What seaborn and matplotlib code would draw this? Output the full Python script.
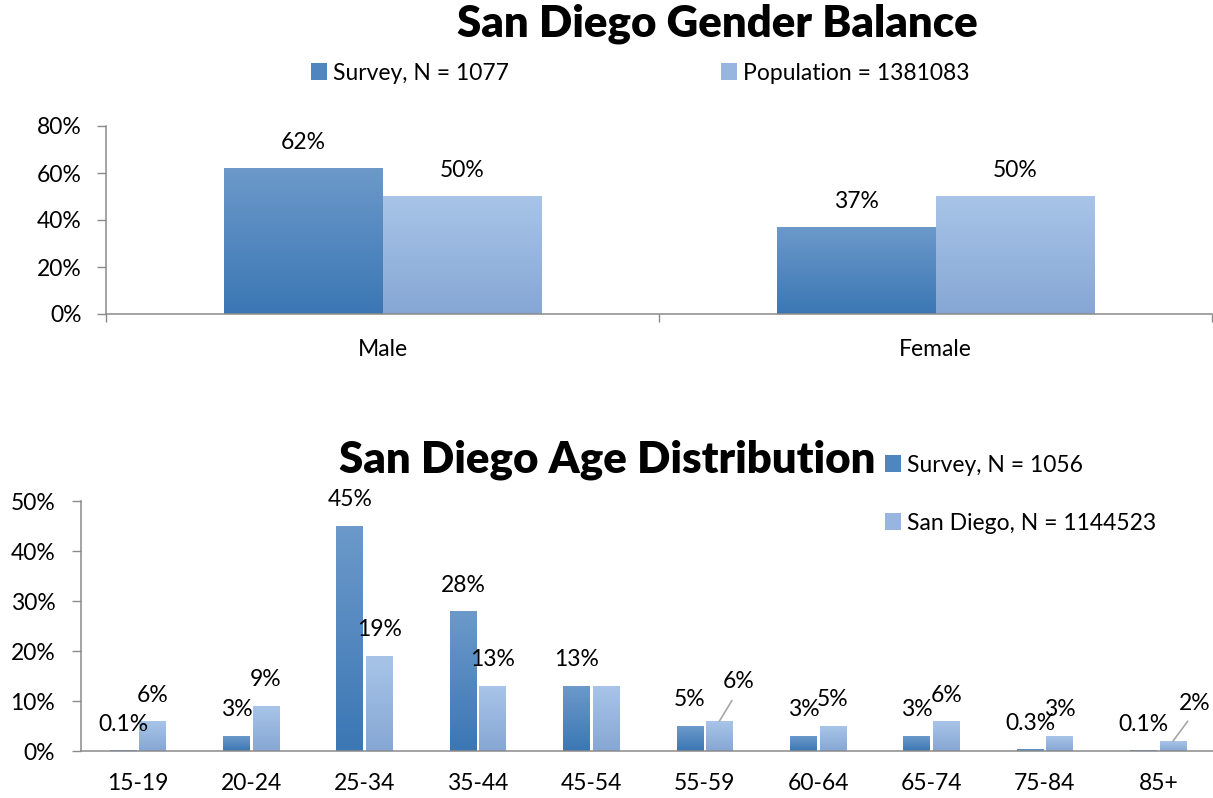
import numpy as np
import pandas as pd
import matplotlib
matplotlib.use("Agg")
import matplotlib.pyplot as plt
import matplotlib.patches as mpatches
from matplotlib.ticker import FuncFormatter
import seaborn as sns

# ---------------- data ----------------
gender_cats = ["Male", "Female"]
gender_survey = [62, 37]
gender_pop = [50, 50]
gender_series = ["Survey, N = 1077", "Population = 1381083"]

age_cats = ["15-19", "20-24", "25-34", "35-44", "45-54",
            "55-59", "60-64", "65-74", "75-84", "85+"]
age_survey = [0.1, 3, 45, 28, 13, 5, 3, 3, 0.3, 0.1]
age_pop = [6, 9, 19, 13, 13, 6, 5, 6, 3, 2]
age_series = ["Survey, N = 1056", "San Diego, N = 1144523"]

gender_title = "San Diego Gender Balance"
age_title = "San Diego Age Distribution"

# ---------------- style ----------------
sns.set_style("white")
plt.rcParams["font.family"] = ["Lato", "DejaVu Sans"]
plt.rcParams["text.color"] = "black"
plt.rcParams["xtick.labelcolor"] = "black"
plt.rcParams["ytick.labelcolor"] = "black"
FS = 16.5

W, H = 1213, 798
DARK = ("#6c99ca", "#3b77b4")    # top, bottom
LIGHT = ("#a8c4e8", "#86a7d4")
SPINE = "#8a8a8a"

fig = plt.figure(figsize=(W / 100, H / 100), dpi=100)
ax1 = fig.add_axes([106 / W, 1 - 314 / H, (1212 - 106) / W, 188 / H])
ax2 = fig.add_axes([81 / W, 1 - 751 / H, 1134 / W, 250 / H])

df1 = pd.DataFrame({
    "cat": gender_cats * 2,
    "val": gender_survey + gender_pop,
    "series": [gender_series[0]] * 2 + [gender_series[1]] * 2,
})
df2 = pd.DataFrame({
    "cat": age_cats * 2,
    "val": age_survey + age_pop,
    "series": [age_series[0]] * len(age_cats) + [age_series[1]] * len(age_cats),
})

sns.barplot(data=df1, x="cat", y="val", hue="series", ax=ax1,
            palette=[DARK[1], LIGHT[1]], width=0.573, gap=0,
            legend=False, linewidth=0)
sns.barplot(data=df2, x="cat", y="val", hue="series", ax=ax2,
            palette=[DARK[1], LIGHT[1]], width=0.52, gap=0.1,
            legend=False, linewidth=0)


def gradient(ax, bar, cols):
    x, y = bar.get_x(), bar.get_y()
    w, h = bar.get_width(), bar.get_height()
    c0 = np.array(matplotlib.colors.to_rgba(cols[0]))
    c1 = np.array(matplotlib.colors.to_rgba(cols[1]))
    t = np.linspace(0, 1, 128)[:, None]
    img = (c0[None, :] * (1 - t) + c1[None, :] * t)[:, None, :]
    ax.imshow(img, extent=[x, x + w, y, y + h], origin="upper",
              aspect="auto", zorder=bar.get_zorder() + 0.1, interpolation="bilinear")


def fmt(v):
    return f"{v:.1f}%" if v < 1 else f"{v:.0f}%"


def style_axis(ax, ymax, step, xlim):
    ax.set_xlim(*xlim)
    ax.set_ylim(0, ymax)
    ax.set_yticks(np.arange(0, ymax + 0.01, step))
    ax.yaxis.set_major_formatter(FuncFormatter(lambda v, p: f"{v:.0f}%"))
    ax.set_xlabel("")
    ax.set_ylabel("")
    for s in ["top", "right"]:
        ax.spines[s].set_visible(False)
    for s in ["left", "bottom"]:
        ax.spines[s].set_color(SPINE)
        ax.spines[s].set_linewidth(1.1)
    ax.tick_params(axis="y", length=6.5, width=1, color=SPINE, pad=11,
                   labelsize=FS, left=True)
    ax.grid(False)


# top chart
for cont, cols in zip(ax1.containers, [DARK, LIGHT]):
    for bar in cont:
        gradient(ax1, bar, cols)
style_axis(ax1, 80, 20, (-0.5, 1.5))
ax1.tick_params(axis="x", which="major", length=0, pad=18, labelsize=FS)
ax1.set_xticks([-0.5, 0.5, 1.5], minor=True)
ax1.tick_params(axis="x", which="minor", length=6, width=1, color=SPINE,
                bottom=True)
for cont, vals in zip(ax1.containers, [gender_survey, gender_pop]):
    for bar, v in zip(cont, vals):
        ax1.annotate(fmt(v), xy=(bar.get_x() + bar.get_width() / 2, bar.get_height()),
                     xytext=(0, 26), textcoords="offset pixels",
                     ha="center", va="center", fontsize=FS)

# bottom chart
for cont, cols in zip(ax2.containers, [DARK, LIGHT]):
    for bar in cont:
        gradient(ax2, bar, cols)
style_axis(ax2, 50, 10, (-0.5, 9.5))
ax2.tick_params(axis="x", length=0, pad=16, labelsize=FS)
ax2.tick_params(axis="y", pad=12)

hidden = {(1, "45-54")}
leader = {(1, "55-59"): (19, 39), (1, "85+"): (22, 38)}
for si, (cont, vals) in enumerate(zip(ax2.containers, [age_survey, age_pop])):
    for bar, v, c in zip(cont, vals, age_cats):
        if (si, c) in hidden:
            continue
        xy = (bar.get_x() + bar.get_width() / 2, bar.get_height())
        if (si, c) in leader:
            ax2.annotate(fmt(v), xy=xy, xytext=leader[(si, c)],
                         textcoords="offset pixels", ha="center", va="center",
                         fontsize=FS,
                         arrowprops=dict(arrowstyle="-", color="#a6a6a6", lw=1.2,
                                         shrinkA=4, shrinkB=0, relpos=(0.45, 0.0)))
        else:
            ax2.annotate(fmt(v), xy=xy, xytext=(0, 26), textcoords="offset pixels",
                         ha="center", va="center", fontsize=FS)

# titles
fig.text(717 / W, 1 - 37 / H, gender_title, ha="center", va="baseline",
         fontsize=31.5, fontweight="heavy")
fig.text(607 / W, 1 - 472 / H, age_title, ha="center", va="baseline",
         fontsize=31.5, fontweight="heavy")

# legends
def add_legend(x, y, label, col):
    h = mpatches.Patch(facecolor=col, edgecolor="none")
    fig.legend([h], [label], loc="center left", bbox_to_anchor=(x / W, 1 - y / H),
               frameon=False, borderpad=0, borderaxespad=0, fontsize=FS,
               handlelength=0.7, handleheight=0.7, handletextpad=0.28)

mid_dark = "#4f86c0"
mid_light = "#97b5de"
add_legend(311, 73, gender_series[0], mid_dark)
add_legend(721, 73, gender_series[1], mid_light)
add_legend(885, 465, age_series[0], mid_dark)
add_legend(885, 523, age_series[1], mid_light)

fig.savefig("out.png", dpi=100)
